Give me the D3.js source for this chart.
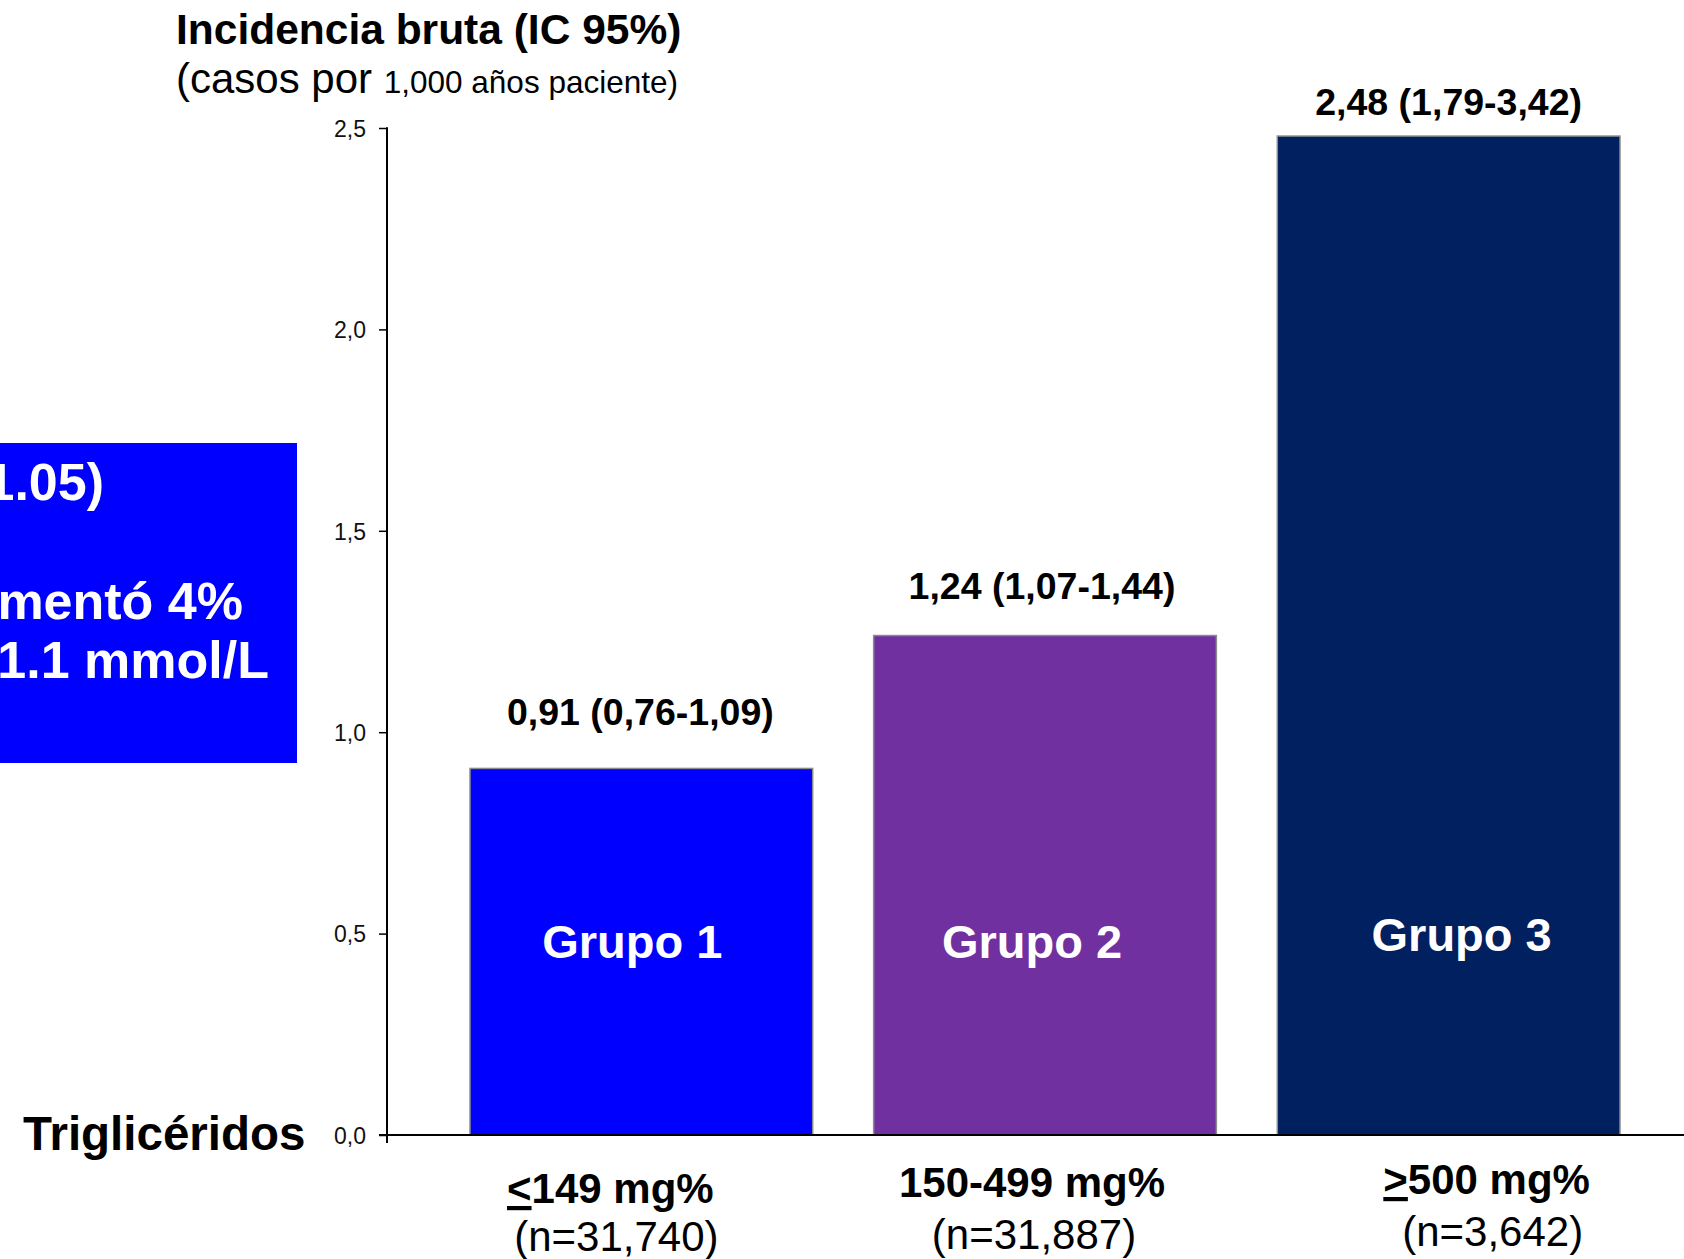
<!DOCTYPE html>
<html>
<head>
<meta charset="utf-8">
<script src="https://cdn.jsdelivr.net/npm/d3@7"></script>
<style>
  html, body { margin: 0; padding: 0; background: #fff; }
  svg { display: block; font-family: "Liberation Sans", Arial, Helvetica, sans-serif; }
</style>
</head>
<body>
<svg id="chart" width="1684" height="1259"></svg>
<script>
// ---- data ----
const categories = ["Grupo 1", "Grupo 2", "Grupo 3"];
const incidence = [0.91, 1.24, 2.48];
const ciLabels = ["0,91 (0,76-1,09)", "1,24 (1,07-1,44)", "2,48 (1,79-3,42)"];
const rangeSigns = ["<", "", ">"];
const rangeLabels = ["149 mg%", "150-499 mg%", "500 mg%"];
const nLabels = ["(n=31,740)", "(n=31,887)", "(n=3,642)"];
const yTicks = [0, 0.5, 1.0, 1.5, 2.0, 2.5];
const colors = ["#0000FF", "#7030A0", "#002060"];
const boxLines = ["(IC 95% 1.03-1.05)", "El riesgo aumentó 4%", "por cada 1.1 mmol/L"];

// ---- layout ----
const W = 1684, H = 1259;
const svg = d3.select("#chart");
const axisX = 387, y0 = 1135, yTop = 128;

const y = d3.scaleLinear().domain([0, 2.5]).range([y0, yTop]);
const x = d3.scaleBand().domain(categories).range([470, 1620]).paddingInner(0.151).paddingOuter(0);

// blue text box at left (its text runs off the page edge, as in the original slide)
svg.append("rect").attr("x", 0).attr("y", 443).attr("width", 297).attr("height", 320).attr("fill", "#0000FF");
const boxText = svg.append("g").attr("fill", "#fff").attr("font-weight", "bold").attr("font-size", 52).attr("text-anchor", "end");
const boxPos = [[104, 500], [243, 619], [269, 678]];
boxLines.forEach((t, i) => boxText.append("text").attr("x", boxPos[i][0]).attr("y", boxPos[i][1]).text(t));

// bars
svg.append("g").selectAll("rect").data(categories).join("rect")
  .attr("x", d => x(d))
  .attr("y", (d, i) => y(incidence[i]))
  .attr("width", x.bandwidth())
  .attr("height", (d, i) => y(0) - y(incidence[i]))
  .attr("fill", (d, i) => colors[i])
  .attr("stroke", "#8c8c8c")
  .attr("stroke-width", 1.5);

// y axis
const yAxis = d3.axisLeft(y).tickValues(yTicks).tickSize(8).tickPadding(13)
  .tickFormat(d => d3.format(".1f")(d).replace(".", ","));
const gy = svg.append("g").attr("transform", `translate(${axisX},0)`).call(yAxis);
gy.select(".domain").remove();
gy.selectAll(".tick line").attr("stroke", "#000").attr("stroke-width", 1.5);
gy.selectAll(".tick text").attr("font-size", 23).attr("fill", "#111").attr("font-family", "Liberation Sans, Arial, sans-serif").attr("dy", "0.36em");
svg.append("line").attr("x1", axisX).attr("x2", axisX).attr("y1", yTop - 0.75).attr("y2", y0 + 8)
  .attr("stroke", "#000").attr("stroke-width", 2);
svg.append("line").attr("x1", axisX - 8).attr("x2", W).attr("y1", y0).attr("y2", y0)
  .attr("stroke", "#000").attr("stroke-width", 2);

// value labels above bars
const gapAbove = [43, 37, 21];
const ciShift = [-1, -3, 0];
svg.append("g").selectAll("text").data(categories).join("text")
  .attr("x", (d, i) => x(d) + x.bandwidth() / 2 + ciShift[i])
  .attr("y", (d, i) => y(incidence[i]) - gapAbove[i])
  .attr("text-anchor", "middle").attr("font-weight", "bold").attr("font-size", 37.5).attr("fill", "#000")
  .text((d, i) => ciLabels[i]);

// group names inside bars
const grpShift = [[-9, 958], [-13, 958], [13, 951]];
svg.append("g").selectAll("text").data(categories).join("text")
  .attr("x", (d, i) => x(d) + x.bandwidth() / 2 + grpShift[i][0])
  .attr("y", (d, i) => grpShift[i][1])
  .attr("text-anchor", "middle").attr("font-weight", "bold").attr("font-size", 47).attr("fill", "#fff")
  .text(d => d);

// category labels below axis
const catShift = [[-31, 1203, -25, 1251], [-13, 1197, -11, 1249], [38, 1194, 44, 1246]];
categories.forEach((c, i) => {
  const cx = x(c) + x.bandwidth() / 2;
  const t = svg.append("text").attr("x", cx + catShift[i][0]).attr("y", catShift[i][1])
    .attr("text-anchor", "middle").attr("font-weight", "bold").attr("font-size", 42).attr("fill", "#000");
  if (rangeSigns[i]) t.append("tspan").attr("text-decoration", "underline").text(rangeSigns[i]);
  t.append("tspan").text(rangeLabels[i]);
  svg.append("text").attr("x", cx + catShift[i][2]).attr("y", catShift[i][3])
    .attr("text-anchor", "middle").attr("font-size", 42).attr("fill", "#000").text(nLabels[i]);
});

// titles
svg.append("text").attr("x", 176).attr("y", 44).attr("font-weight", "bold").attr("font-size", 42.5).attr("fill", "#000")
  .text("Incidencia bruta (IC 95%)");
const sub = svg.append("text").attr("x", 176).attr("y", 93).attr("fill", "#000");
sub.append("tspan").attr("font-size", 42).text("(casos por ");
sub.append("tspan").attr("font-size", 31.5).text("1,000 años paciente)");

svg.append("text").attr("x", 23).attr("y", 1150).attr("font-weight", "bold").attr("font-size", 47.5).attr("fill", "#000")
  .text("Triglicéridos");
</script>
</body>
</html>
